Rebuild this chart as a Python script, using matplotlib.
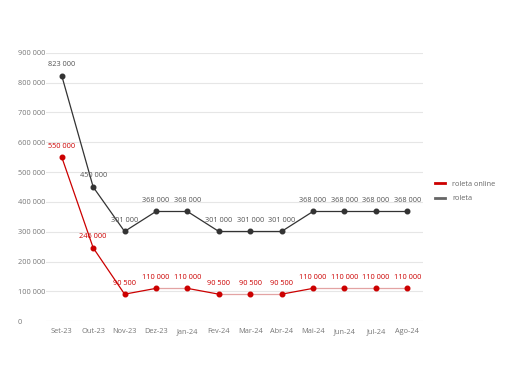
import matplotlib.pyplot as plt
from matplotlib.lines import Line2D

# data
months = ["Set-23", "Out-23", "Nov-23", "Dez-23", "Jan-24", "Fev-24",
          "Mar-24", "Abr-24", "Mai-24", "Jun-24", "Jul-24", "Ago-24"]
roleta_online = [550000, 246000, 90500, 110000, 110000, 90500,
                 90500, 90500, 110000, 110000, 110000, 110000]
roleta = [823000, 450000, 301000, 368000, 368000, 301000,
          301000, 301000, 368000, 368000, 368000, 368000]
y_ticks = [0, 100000, 200000, 300000, 400000, 500000,
           600000, 700000, 800000, 900000]

plt.rcParams['font.family'] = ['Open Sans', 'DejaVu Sans']

def fmt(v):
    return f"{v:,.0f}".replace(",", " ")

fig = plt.figure(figsize=(5.12, 3.86), dpi=100)
ax = fig.add_axes([0.09, 0.168, 0.736, 0.695])

x = list(range(len(months)))

def draw_series(vals, color, flat_color, label_color):
    for i in range(len(vals) - 1):
        c = flat_color if vals[i] == vals[i + 1] else color
        ax.plot([x[i], x[i + 1]], [vals[i], vals[i + 1]], color=c, lw=0.9, zorder=3)
    ax.plot(x, vals, 'o', color=color, ms=3.3, zorder=4)
    for xi, v in zip(x, vals):
        ax.annotate(fmt(v), (xi, v), xytext=(0, 5.5), textcoords='offset points',
                    ha='center', va='bottom', fontsize=5.3, color=label_color)

draw_series(roleta, '#333333', '#333333', '#555555')
draw_series(roleta_online, '#cc0000', '#e3a3a3', '#cc0000')

ax.set_xlim(-0.5, len(months) - 0.5)
ax.set_ylim(0, 900000)
ax.set_xticks(x)
ax.set_xticklabels(months, fontsize=5.3, color='#777777')
ax.set_yticks(y_ticks)
ax.set_yticklabels([fmt(v) for v in y_ticks], fontsize=5.3, color='#777777', ha='left')
ax.tick_params(axis='y', length=0, pad=20.5)
ax.tick_params(axis='x', length=0, pad=5)
ax.grid(axis='y', color='#e6e6e6', lw=0.8)
ax.set_axisbelow(True)
for s in ax.spines.values():
    s.set_visible(False)

handles = [Line2D([], [], color='#cc0000', lw=2),
           Line2D([], [], color='#666666', lw=2)]
fig.legend(handles, ["roleta online", "roleta"], loc='center left',
           bbox_to_anchor=(0.837, 0.504), frameon=False, fontsize=5.3,
           labelcolor='#666666', handlelength=1.4, handletextpad=0.9,
           labelspacing=0.95)

fig.savefig('out.png', dpi=100)
